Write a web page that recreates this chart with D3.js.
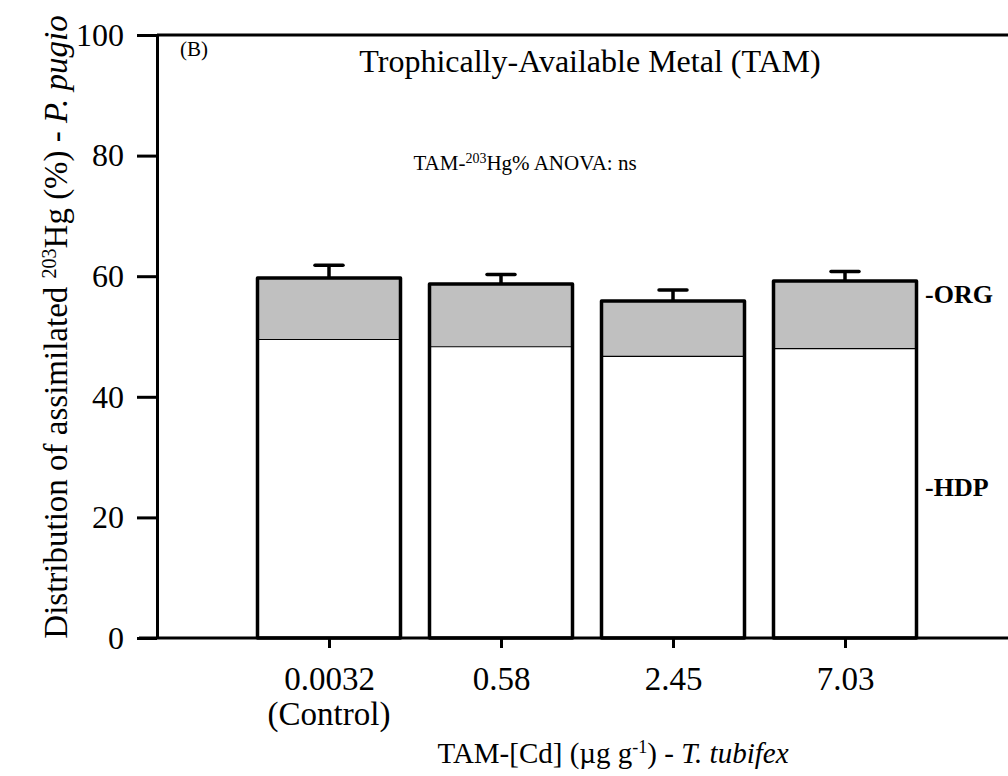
<!DOCTYPE html>
<html>
<head>
<meta charset="utf-8">
<script src="https://cdn.jsdelivr.net/npm/d3@7"></script>
<style>
  body { margin: 0; background: #fff; }
  svg { display: block; font-family: "Liberation Serif", "Times New Roman", serif; }
</style>
</head>
<body>
<div id="chart"></div>
<script>
const width = 1008
const height = 776

// data
const categories = ["0.0032", "0.58", "2.45", "7.03"]
const hdp = [49.5, 48.3, 46.7, 48.0]
const org = [10.2, 10.4, 9.2, 11.2]
const err = [2.1, 1.6, 1.8, 1.6]
const yTicks = [0, 20, 40, 60, 80, 100]
const fractionLabels = ["-ORG", "-HDP"]
const fractionLabelY = [57, 25]

const margin = { left: 157, right: -9, top: 35, bottom: 138 }

const svg = d3.select("#chart").append("svg")
  .attr("width", width)
  .attr("height", height)

const x = d3.scalePoint()
  .domain(categories)
  .range([margin.left, width - margin.right])
  .padding(1)

const y = d3.scaleLinear()
  .domain([0, 100])
  .range([height - margin.bottom, margin.top])

const barW = 143

// bars: lower (HDP, white) and upper (ORG, grey)
const g = svg.append("g")
categories.forEach((c, i) => {
  const cx = x(c)
  const top = hdp[i] + org[i]
  // grey part
  g.append("rect")
    .attr("x", cx - barW / 2).attr("width", barW)
    .attr("y", y(top)).attr("height", y(hdp[i]) - y(top))
    .attr("fill", "#c0c0c0")
  // white part
  g.append("rect")
    .attr("x", cx - barW / 2).attr("width", barW)
    .attr("y", y(hdp[i])).attr("height", y(0) - y(hdp[i]))
    .attr("fill", "#fff")
  // divider
  g.append("line")
    .attr("x1", cx - barW / 2).attr("x2", cx + barW / 2)
    .attr("y1", y(hdp[i])).attr("y2", y(hdp[i]))
    .attr("stroke", "#000").attr("stroke-width", 1.2)
  // outline
  g.append("rect")
    .attr("x", cx - barW / 2).attr("width", barW)
    .attr("y", y(top)).attr("height", y(0) - y(top))
    .attr("fill", "none").attr("stroke", "#000").attr("stroke-width", 3.5)
    .attr("stroke-linejoin", "round")
  // error bar
  g.append("line")
    .attr("x1", cx).attr("x2", cx)
    .attr("y1", y(top)).attr("y2", y(top + err[i]))
    .attr("stroke", "#000").attr("stroke-width", 3.5)
  g.append("line")
    .attr("x1", cx - 14).attr("x2", cx + 14)
    .attr("y1", y(top + err[i])).attr("y2", y(top + err[i]))
    .attr("stroke", "#000").attr("stroke-width", 3.5)
    .attr("stroke-linecap", "round")
})

// y axis
const yAxis = svg.append("g")
  .attr("transform", "translate(" + margin.left + ",0)")
  .call(d3.axisLeft(y).tickValues(yTicks).tickSize(20).tickPadding(13).tickSizeOuter(0))
yAxis.select(".domain").attr("stroke-width", 3)
yAxis.selectAll(".tick line").attr("stroke-width", 3)
yAxis.selectAll(".tick text").attr("font-size", 32).attr("font-family", "Liberation Serif").attr("fill", "#000")

// top frame line
svg.append("line")
  .attr("x1", margin.left).attr("x2", width)
  .attr("y1", y(100)).attr("y2", y(100))
  .attr("stroke", "#000").attr("stroke-width", 3)

// x axis
const xAxis = svg.append("g")
  .attr("transform", "translate(0," + y(0) + ")")
  .call(d3.axisBottom(x).tickSize(10).tickPadding(19).tickSizeOuter(0))
xAxis.select(".domain").attr("d", "M" + (margin.left - 18) + ",0H" + width).attr("stroke-width", 3)
xAxis.selectAll(".tick line").attr("stroke-width", 3)
xAxis.selectAll(".tick text").attr("font-size", 33).attr("font-family", "Liberation Serif").attr("fill", "#000")
xAxis.append("text")
  .attr("x", x(categories[0])).attr("y", 87)
  .attr("text-anchor", "middle").attr("font-size", 33).attr("fill", "#000")
  .attr("font-family", "Liberation Serif")
  .text("(Control)")

// x axis title
const xt = svg.append("text")
  .attr("x", 613).attr("y", 763)
  .attr("text-anchor", "middle").attr("font-size", 29)
xt.append("tspan").text("TAM-[Cd] (\u00b5g g")
xt.append("tspan").attr("baseline-shift", "super").attr("font-size", 18).text("-1")
xt.append("tspan").text(") - ")
xt.append("tspan").attr("font-style", "italic").text("T. tubifex")

// y axis title
const yt = svg.append("text")
  .attr("transform", "translate(67," + 327 + ") rotate(-90)")
  .attr("text-anchor", "middle").attr("font-size", 33)
yt.append("tspan").text("Distribution of assimilated ")
yt.append("tspan").attr("baseline-shift", "super").attr("font-size", 20).text("203")
yt.append("tspan").text("Hg (%) - ")
yt.append("tspan").attr("font-style", "italic").text("P. pugio")

// panel label and titles
svg.append("text").attr("x", 180).attr("y", 56).attr("font-size", 21).text("(B)")
svg.append("text").attr("x", 590).attr("y", 72).attr("text-anchor", "middle")
  .attr("font-size", 32).text("Trophically-Available Metal (TAM)")
const an = svg.append("text").attr("x", 525).attr("y", 170).attr("text-anchor", "middle").attr("font-size", 21)
an.append("tspan").text("TAM-")
an.append("tspan").attr("baseline-shift", "super").attr("font-size", 14).text("203")
an.append("tspan").text("Hg% ANOVA: ns")

// fraction labels
fractionLabels.forEach((t, i) => {
  svg.append("text").attr("x", 925).attr("y", y(fractionLabelY[i]) + 9)
    .attr("font-size", 26).attr("font-weight", "bold").text(t)
})
</script>
</body>
</html>
